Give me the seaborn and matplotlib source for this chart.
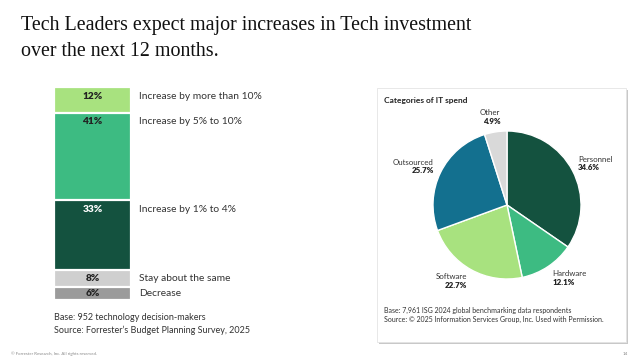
import numpy as np
import pandas as pd
import matplotlib
matplotlib.use("Agg")
import matplotlib.pyplot as plt
import seaborn as sns
from matplotlib.patches import Rectangle

# Stacked bar: expected change in tech investment (top to bottom)
change_labels = ["Increase by more than 10%", "Increase by 5% to 10%",
                 "Increase by 1% to 4%", "Stay about the same", "Decrease"]
change_values = [12, 41, 33, 8, 6]
change_colors = ["#a8e27f", "#3dbb82", "#14523f", "#cfcfcf", "#9b9b9b"]
change_text = ["#222222", "#222222", "#ffffff", "#222222", "#222222"]

# Pie: categories of IT spend (clockwise from 12 o'clock)
spend_labels = ["Personnel", "Hardware", "Software", "Outsourced", "Other"]
spend_values = [34.6, 12.1, 22.7, 25.7, 4.9]
spend_colors = ["#14523f", "#3dbb82", "#a8e27f", "#13708f", "#d9d9d9"]

W, H = 642, 362
sns.set_theme(style="white")
plt.rcParams["font.family"] = ["Lato", "DejaVu Sans"]

fig = plt.figure(figsize=(W / 100, H / 100), dpi=100)
fig.patch.set_facecolor("white")


def ftext(x, y, s, **kw):
    # place text using pixel coordinates from the top-left corner
    fig.text(x / W, 1 - y / H, s, **kw)


# title
title_kw = dict(family=["Liberation Serif", "DejaVu Serif"], fontsize=14.4,
                color="#111111", va="baseline")
ftext(21, 30, "Tech Leaders expect major increases in Tech investment", **title_kw)
ftext(21, 56, "over the next 12 months.", **title_kw)

# ---- stacked bar ----
ax = fig.add_axes([54 / W, (H - 300) / H, 77 / W, 213 / H])
tops = np.cumsum(change_values[::-1])[::-1]  # top of each segment
df = pd.DataFrame({"group": ["all"] * len(change_labels),
                   "top": tops, "label": change_labels})
sns.barplot(data=df, x="group", y="top", hue="label", hue_order=change_labels,
            palette=change_colors, saturation=1, dodge=False, width=1.0,
            legend=False, edgecolor="white", linewidth=1.6, ax=ax)
ax.set_xlim(-0.5, 0.5)
ax.set_ylim(0, 100)
ax.axis("off")

for top, val, lab, tc in zip(tops, change_values, change_labels, change_text):
    ypos = top - min(4.3, val / 2)
    ax.text(0, ypos, f"{val}%", ha="center", va="center", fontsize=7.3,
            fontweight="heavy", color=tc)
    ax.text(0.6, ypos, lab, ha="left", va="center", fontsize=7.4,
            color="#333333", clip_on=False)

ftext(54, 318, "Base: 952 technology decision-makers", fontsize=6.5,
      color="#333333", va="center")
ftext(54, 330, "Source: Forrester\u2019s Budget Planning Survey, 2025", fontsize=6.5,
      color="#333333", va="center")

# ---- pie panel box ----
bx0, by0, bx1, by1 = 377, 88, 626, 342
fig.patches.append(Rectangle(((bx0 + 2) / W, 1 - (by1 + 2) / H), (bx1 - bx0) / W,
                             (by1 - by0) / H, transform=fig.transFigure,
                             facecolor="#c8c8c8", edgecolor="none", zorder=-2))
fig.patches.append(Rectangle((bx0 / W, 1 - by1 / H), (bx1 - bx0) / W,
                             (by1 - by0) / H, transform=fig.transFigure,
                             facecolor="white", edgecolor="#e4e4e4",
                             linewidth=0.6, zorder=-1))

ftext(384, 100, "Categories of IT spend", fontsize=6.0, fontweight="bold",
      color="#222222", va="center")

cx, cy, r = 507, 205, 74
half = 80
pax = fig.add_axes([(cx - half) / W, (H - cy - half) / H, 2 * half / W, 2 * half / H])
pax.patch.set_alpha(0)
pax.pie(spend_values, colors=spend_colors, startangle=90, counterclock=False,
        radius=1.0, wedgeprops=dict(edgecolor="white", linewidth=1.0))
lim = half / r
pax.set_xlim(-lim, lim)
pax.set_ylim(-lim, lim)
pax.set_aspect("equal")
pax.axis("off")

# label anchors (pie radius units) and alignment
label_pos = {
    "Personnel": (0.96, 0.61, 0.50, "left"),
    "Hardware": (0.61, -0.93, -1.05, "left"),
    "Software": (-0.54, -0.97, -1.09, "right"),
    "Outsourced": (-0.99, 0.58, 0.47, "right"),
    "Other": (-0.09, 1.25, 1.13, "right"),
}
for lab, val in zip(spend_labels, spend_values):
    x, y1, y2, ha = label_pos[lab]
    pax.text(x, y1, lab, ha=ha, va="center", fontsize=5.7, color="#333333",
             clip_on=False)
    pax.text(x, y2, f"{val}%", ha=ha, va="center", fontsize=5.7,
             fontweight="heavy", color="#222222", clip_on=False)

ftext(384, 310, "Base: 7,961 ISG 2024 global benchmarking data respondents",
      fontsize=5.0, color="#333333", va="center")
ftext(384, 319, "Source: \u00a9 2025 Information Services Group, Inc. Used with Permission.",
      fontsize=5.0, color="#333333", va="center")

# footer
ftext(11, 354, "\u00a9 Forrester Research, Inc. All rights reserved.", fontsize=3.2,
      color="#888888", va="center")
ftext(628, 354, "14", fontsize=3.2, color="#888888", va="center", ha="right")

fig.savefig("out.png", dpi=100, facecolor="white")
